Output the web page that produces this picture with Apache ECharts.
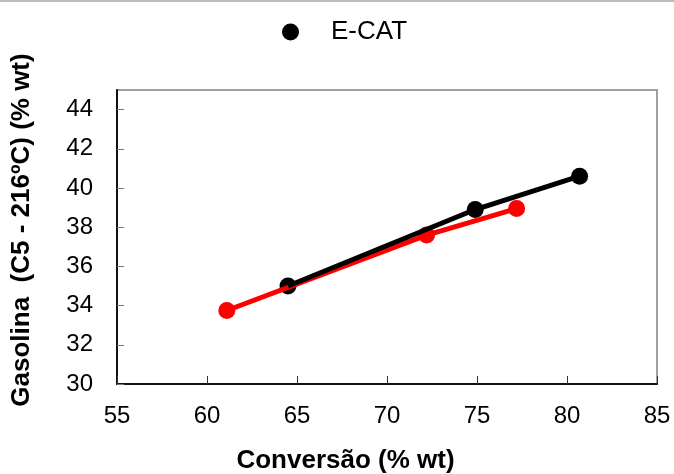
<!DOCTYPE html>
<html><head><meta charset="utf-8">
<script src="https://cdn.jsdelivr.net/npm/echarts@6/dist/echarts.min.js"></script>
<style>html,body{margin:0;padding:0;background:#fff}#c{width:674px;height:474px}</style>
</head><body><div id="c"></div>
<script>
const ecatX = [64.5, 74.9, 80.7];
const ecatY = [35.0, 38.9, 40.6];
const redX = [61.1, 72.2, 77.2];
const redY = [33.75, 37.6, 38.95];
const xTicks = [55, 60, 65, 70, 75, 80, 85];
const yTicks = [30, 32, 34, 36, 38, 40, 42, 44];
const legendName = 'E-CAT';
const xName = 'Conversão (% wt)';
const yName = 'Gasolina  (C5 - 216ºC) (% wt)';

const pairs = (xs, ys) => xs.map((x, i) => [x, ys[i]]);
const font = 'Liberation Sans';
const chart = echarts.init(document.getElementById('c'));
chart.setOption({
  animation: false,
  backgroundColor: '#fff',
  legend: {
    data: [{name: legendName, icon: 'circle', itemStyle: {color: '#000', opacity: 1}}],
    top: 14, left: 277,
    itemWidth: 17, itemHeight: 17,
    textStyle: {fontFamily: font, fontSize: 26, color: '#000', padding: [0, 0, 0, 27]}
  },
  grid: {left: 117, top: 90, width: 540, height: 294, show: true, borderColor: '#a0a0a0', borderWidth: 2,
    containLabel: false, outerBoundsMode: 'none'},
  xAxis: {
    type: 'value', min: xTicks[0], max: xTicks[xTicks.length - 1], interval: 5,
    axisLine: {show: true, lineStyle: {color: '#111', width: 2}},
    axisTick: {show: true, inside: true, length: 8, lineStyle: {color: '#333'}},
    splitLine: {show: false},
    axisLabel: {fontFamily: font, fontSize: 24, color: '#000', margin: 20},
    name: xName, nameLocation: 'middle', nameGap: 64,
    nameTextStyle: {fontFamily: font, fontSize: 26, fontWeight: 'bold', color: '#000', padding: [0, 83, 0, 0]}
  },
  yAxis: {
    type: 'value', min: 30, max: 45, interval: 2,
    axisLine: {show: true, lineStyle: {color: '#111', width: 2}},
    axisTick: {show: true, inside: true, length: 7, lineStyle: {color: '#777'}},
    splitLine: {show: false},
    axisLabel: {fontFamily: font, fontSize: 24, color: '#000', margin: 24, showMaxLabel: false,
      formatter: v => (yTicks.indexOf(v) >= 0 ? String(v) : '')},
    name: yName, nameLocation: 'middle', nameGap: 82,
    nameTextStyle: {fontFamily: font, fontSize: 26, fontWeight: 'bold', color: '#000', padding: [0, 0, 0, 14]}
  },
  graphic: [{type: 'line', shape: {x1: 0, y1: 1, x2: 674, y2: 1}, style: {stroke: '#bbb', lineWidth: 2}}],
  series: [
    {name: legendName, type: 'scatter', data: pairs(ecatX, ecatY), symbolSize: 17, itemStyle: {color: '#000', opacity: 1}, z: 2},
    {name: 'red-pts', type: 'scatter', data: pairs(redX, redY), symbolSize: 17, itemStyle: {color: '#ff0000', opacity: 1}, z: 2},
    {name: 'red-line', type: 'line', data: pairs(redX, redY), showSymbol: false, lineStyle: {color: '#ff0000', width: 5}, z: 3},
    {name: 'ecat-line', type: 'line', data: pairs(ecatX, ecatY), showSymbol: false, lineStyle: {color: '#000', width: 5}, z: 3}
  ]
});
</script></body></html>
